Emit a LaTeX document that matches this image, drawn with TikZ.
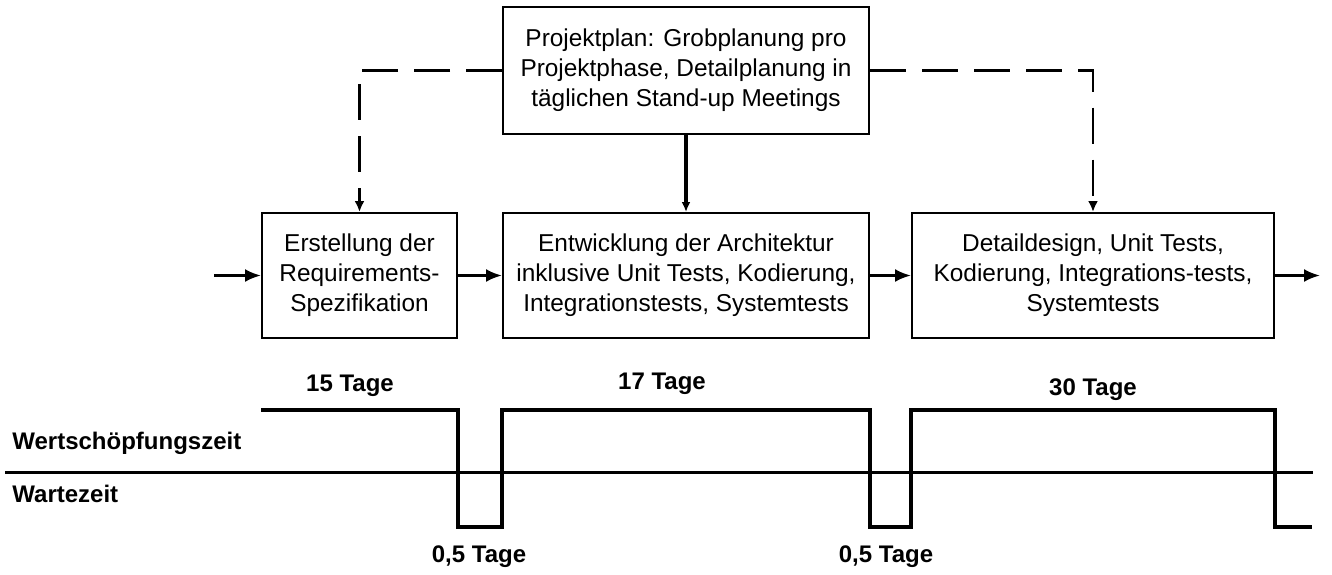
\documentclass[tikz,border=0pt]{standalone}
\usepackage{fontspec}
\setmainfont{Liberation Sans}
\usepackage{tikz}
\usetikzlibrary{calc,positioning,arrows.meta}
\definecolor{linie}{HTML}{000000}
\definecolor{fundo}{HTML}{FFFFFF}

\begin{document}
\begin{tikzpicture}[x=0.5pt,y=-0.5pt, font=\fontsize{12.2}{15}\selectfont,
    phase/.style={draw=linie, line width=1pt, fill=fundo, align=center, inner sep=0pt, minimum width=#1, minimum height=62.5pt},
    flow/.style={-{Latex[length=8pt,width=6.5pt]}, line width=1.3pt, linie},
    plandash/.style={-{Latex[length=5.5pt,width=5pt]}, line width=1.1pt, dash pattern=on 18pt off 8pt, linie},
    wave/.style={line width=1.7pt, linie, line join=miter},
    lbl/.style={font=\bfseries\fontsize{12}{14}\selectfont, inner sep=0pt}]
  \useasboundingbox (0,0) rectangle (1332,574);
  \node[phase=183pt, minimum height=63.5pt] (plan) at (686,70.5) {Projektplan: Grobplanung pro\\Projektphase, Detailplanung in\\täglichen Stand-up Meetings};
  \node[phase=97.5pt] (req) at (359.5,275.5) {Erstellung der\\Requirements-\\Spezifikation};
  \node[phase=183pt] (arch) at (686,275.5) {Entwicklung der Architektur\\inklusive Unit Tests, Kodierung,\\Integrationstests, Systemtests};
  \node[phase=181pt] (det) at (1093,275.5) {Detaildesign, Unit Tests,\\Kodierung, Integrations-tests,\\Systemtests};
  \coordinate (ein) at (214,275.5);
  \coordinate (aus) at (1320,275.5);
  \draw[flow] (ein) -- (req.west);
  \draw[flow] (req.east) -- (arch.west);
  \draw[flow] (arch.east) -- (det.west);
  \draw[flow] (det.east) -- (aus);
  \draw[flow, line width=1.6pt, -{Latex[length=5pt,width=4.5pt]}] (plan.south) -- (arch.north);
  \draw[plandash] (plan.west) -| (req.north);
  \draw[plandash] (plan.east) -| (det.north);
  % Zeitachse
  \coordinate (hoch) at (0,410);
  \coordinate (mitte) at (0,472);
  \coordinate (tief) at (0,527);
  \draw[line width=1.5pt, linie] (5,472) -- (1313,472);
  \draw[wave] (req.west |- hoch) -- (req.east |- hoch) -- (req.east |- tief) -- (arch.west |- tief)
    -- (arch.west |- hoch) -- (arch.east |- hoch) -- (arch.east |- tief) -- (det.west |- tief)
    -- (det.west |- hoch) -- (det.east |- hoch) -- (det.east |- tief) -- (1312,527);
  \node[lbl] (t15) at (350,386) {15 Tage};
  \node[lbl] (t17) at (662,384) {17 Tage};
  \node[lbl] (t30) at (1093,390) {30 Tage};
  \node[lbl] (w1) at (479,557) {0,5 Tage};
  \node[lbl] (w2) at (886,557) {0,5 Tage};
  \node[lbl, anchor=west] (wert) at (12,443) {Wertschöpfungszeit};
  \node[lbl, anchor=west] (warte) at (12,494) {Wartezeit};
\end{tikzpicture}
\end{document}
